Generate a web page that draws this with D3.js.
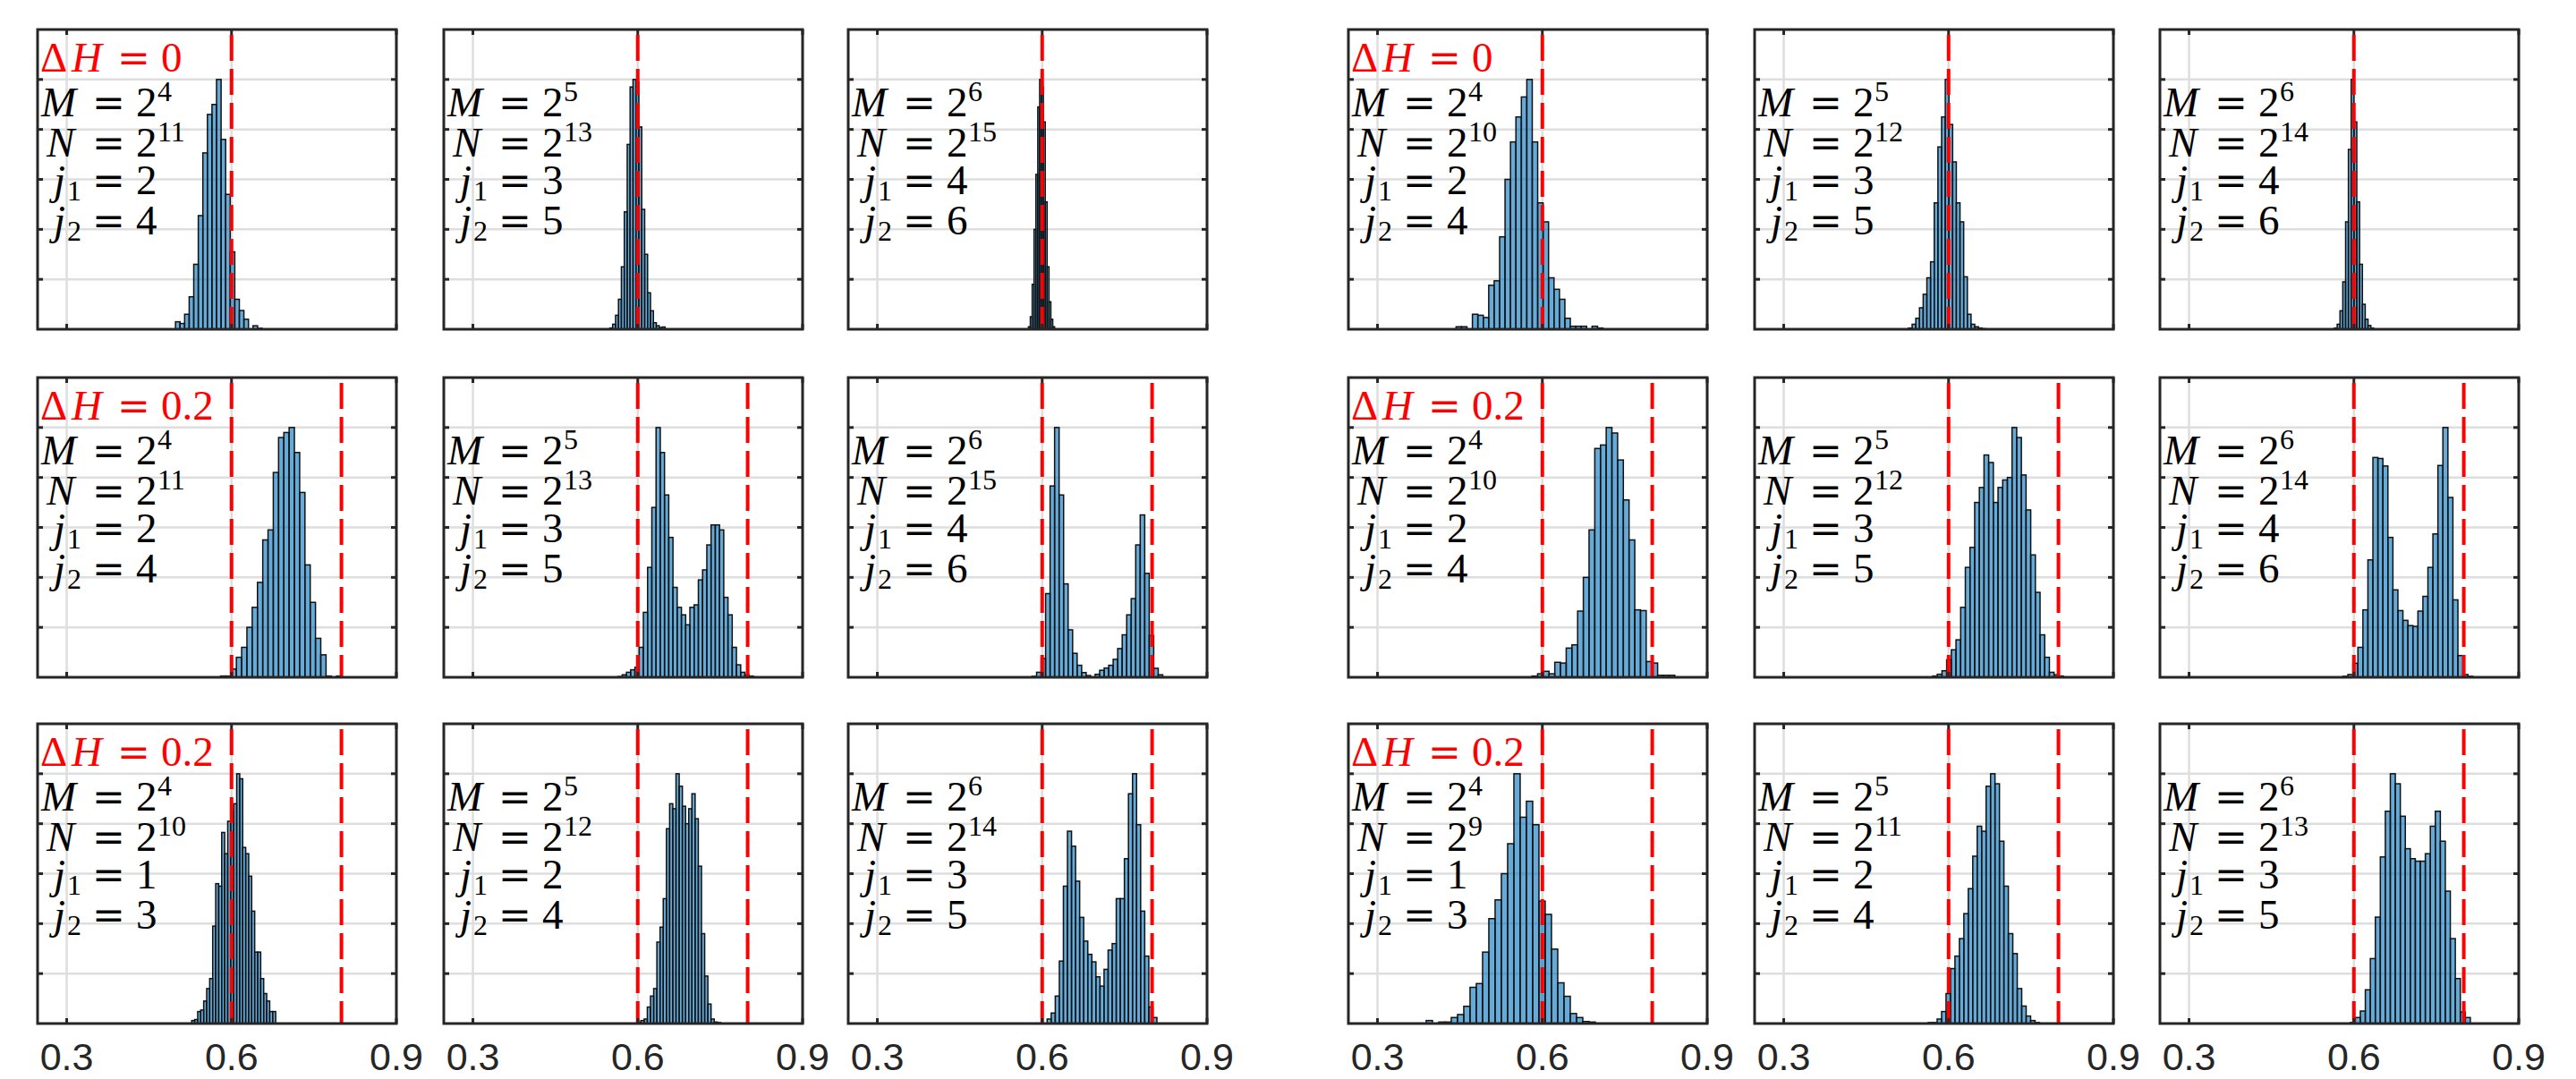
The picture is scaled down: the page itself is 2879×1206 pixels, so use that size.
<!DOCTYPE html>
<html lang="en">
<head>
<meta charset="UTF-8">
<title>Histograms of estimated H</title>
<style>
html,body{margin:0;width:100vw;height:100vh;overflow:hidden;background:#fff;}
svg{display:block;}
</style>
</head>
<body>
<svg width="2879" height="1206"></svg>
<script src="https://d3js.org/d3.v7.min.js"></script>
<script>
// ---- data (bar heights relative to the tallest bar = 100) ----
const deltaH = ["0", "0.2", "0.2"];
const refLines = [[0.6], [0.6, 0.8], [0.6, 0.8]];
const mExp = [4, 5, 6, 4, 5, 6];
const nExp = [[11, 13, 15, 10, 12, 14], [11, 13, 15, 10, 12, 14], [10, 12, 14, 9, 11, 13]];
const j1 = [[2, 3, 4, 2, 3, 4], [2, 3, 4, 2, 3, 4], [1, 2, 3, 1, 2, 3]];
const j2 = [[4, 5, 6, 4, 5, 6], [4, 5, 6, 4, 5, 6], [3, 4, 5, 3, 4, 5]];
const xTicks = [0.3, 0.6, 0.9];

const binStart = [
  [0.498, 0.549, 0.575, 0.443, 0.527, 0.5645],
  [0.580, 0.564, 0.5816, 0.581, 0.571, 0.580],
  [0.5275, 0.600, 0.609, 0.3886, 0.563, 0.5935]
];
const binWidth = [
  [0.0083, 0.0053, 0.0034, 0.0099, 0.0067, 0.0051],
  [0.0096, 0.0077, 0.0082, 0.0104, 0.0085, 0.0091],
  [0.00546, 0.0058, 0.0074, 0.0114, 0.0081, 0.0091]
];

const countsRow1 = [
  [3, 2.3, 6, 13, 26, 45.5, 70.6, 86, 90, 100, 76, 54, 31, 12, 7.5, 4, 0, 1.4, 0.4],
  [0.5, 2, 5.6, 12, 25, 47, 74, 97, 100, 99, 81, 48, 30, 14.6, 7.4, 2.6, 1.4, 0.7, 0.9],
  [1, 5, 18, 40, 62, 89, 100, 97, 83, 51, 25, 11, 4, 1],
  [1, 1, 0, 6, 5.6, 4.7, 17.6, 19.4, 37, 60, 75, 85, 93, 100, 75, 50.6, 43, 20.6, 16, 12, 4.4, 1.2, 1.2, 1.2, 0, 1.2, 0.5],
  [0.5, 2, 4.4, 8.6, 14, 20.6, 27, 50.6, 73, 85, 100, 82, 67, 50.6, 43, 21, 6, 2, 1, 0.5, 0.2],
  [0.5, 2, 7.4, 19, 43, 72, 100, 83, 51, 26, 10, 4, 1.5, 0.5]
];
const countsRow2 = [
  [0.5, 0.5, 3.3, 8, 12, 20, 28, 38, 55, 59, 82, 96, 98, 100, 90, 74, 45, 30, 15.6, 9, 0.5, 0, 0.5],
  [0.3, 1, 2, 3, 4, 12, 26, 44, 68, 100, 90, 73, 56, 36, 28, 25, 21, 28, 29, 39, 43, 53, 61, 61, 59, 32, 25, 12, 5, 2, 1, 0.5],
  [0.4, 2, 7.5, 33.5, 76.6, 100, 73, 37.4, 19, 9.6, 4.8, 1.9, 0.7, 0, 1.2, 2.8, 3.7, 4.8, 7.2, 11.5, 17, 25, 31.5, 53, 65, 41.6, 16.7, 3.6, 1],
  [0.5, 1.4, 2.4, 1.4, 6, 5.7, 11.7, 13, 26.5, 40, 59, 91.6, 93, 100, 97.8, 87, 71, 55, 27, 26.7, 6.3, 5.7, 0.8, 0.8, 0.8],
  [0.5, 1.2, 2.6, 7, 11, 15, 28, 44, 52, 70, 76, 89, 86, 70, 76, 79, 80, 100, 96, 81, 67, 49, 34, 17, 8, 2, 1, 0.5],
  [0.4, 1.1, 5.6, 12, 27, 47, 88, 87.6, 84.6, 56, 35, 26.7, 22.8, 20.7, 20.4, 26.5, 32.4, 44, 57.4, 84.8, 100, 72, 31, 8.7, 1.1, 0.4]
];
const countsRow3 = [
  [1.2, 1.6, 4.8, 5.4, 9, 14, 18, 39, 56, 55, 76.5, 68, 81, 85, 88, 100, 98, 70.5, 68, 59, 45, 28.6, 28.6, 18, 12, 9, 4.8, 4.8],
  [0.6, 1.2, 1.8, 6.6, 11, 14, 32.6, 38.6, 50, 78, 88, 86, 100, 95, 87, 80, 86, 92, 82, 63, 36, 19, 7.8, 1.8, 0.6, 0.4],
  [1.8, 4.2, 11, 25, 55, 77, 71, 57, 42.5, 33, 27.7, 24.7, 18.7, 15, 21.7, 29.4, 32, 50, 50, 66, 92, 100, 79.6, 45, 27, 6.6, 2.4],
  [1.2, 0, 0.6, 0.6, 2.4, 3.6, 6.9, 14.5, 16, 28.6, 42, 49.5, 60, 72, 100, 82.6, 89, 79.6, 49, 43.7, 29.8, 16.3, 10.9, 4, 2.4, 0.8, 0.6],
  [0.4, 0.4, 1.8, 4.8, 12, 22, 27, 34, 44, 54, 67, 79, 77, 95, 100, 96, 73, 55, 36, 28, 14, 7, 3, 1.2, 0.4],
  [0.4, 2.4, 5, 13.5, 26, 42.6, 66.7, 85, 100, 96, 83, 70, 66, 65, 65, 68, 79, 85, 73, 53, 34, 18, 4.6, 2.4]
];

// ---- layout ----
const svg = d3.select("svg");
const colLeft = [42, 496, 948, 1507, 1961, 2414];
const rowTop = [33, 422, 809];
const pw = 401, ph = 335;
const axisColor = "#262626", gridColor = "#dedede";
const mathFont = "'Liberation Serif','Times New Roman',serif";
const eqFont = "'DejaVu Serif',serif";
const tickFont = "'Liberation Sans',Arial,Helvetica,sans-serif";
const FS = 47, SFS = 32, EQS = 44;

const x = d3.scaleLinear().domain([0.247, 0.9]).range([0, pw]);
const y = d3.scaleLinear().domain([0, 120]).range([ph, 0]);
const yGrid = [20, 40, 60, 80, 100];
const counts = [countsRow1, countsRow2, countsRow3];

counts.forEach((row, r) => row.forEach((vals, c) => {
  const g = svg.append("g").attr("transform", `translate(${colLeft[c]},${rowTop[r]})`);

  // grid
  g.selectAll("line.gx").data(xTicks).join("line").attr("class", "gx")
    .attr("x1", d => x(d)).attr("x2", d => x(d)).attr("y1", 0).attr("y2", ph)
    .attr("stroke", gridColor).attr("stroke-width", 2.5);
  g.selectAll("line.gy").data(yGrid).join("line").attr("class", "gy")
    .attr("x1", 0).attr("x2", pw).attr("y1", d => y(d)).attr("y2", d => y(d))
    .attr("stroke", gridColor).attr("stroke-width", 2.5);

  // histogram bars
  const s = binStart[r][c], w = binWidth[r][c];
  const bins = vals.map((v, i) => ({x0: s + i * w, x1: s + (i + 1) * w, v})).filter(d => d.v > 0);
  g.selectAll("rect.bar").data(bins).join("rect").attr("class", "bar")
    .attr("x", d => x(d.x0)).attr("width", d => x(d.x1) - x(d.x0))
    .attr("y", d => y(d.v)).attr("height", d => y(0) - y(d.v))
    .attr("fill", "#0072BD").attr("fill-opacity", 0.6)
    .attr("stroke", "#111").attr("stroke-width", 1.5);

  // reference lines
  g.selectAll("line.ref").data(refLines[r]).join("line").attr("class", "ref")
    .attr("x1", d => x(d)).attr("x2", d => x(d)).attr("y1", 6).attr("y2", ph)
    .attr("stroke", "#ff0000").attr("stroke-width", 4).attr("stroke-dasharray", "29,9");

  // ticks
  yGrid.forEach(v => {
    g.append("line").attr("x1", 0).attr("x2", 6).attr("y1", y(v)).attr("y2", y(v)).attr("stroke", axisColor).attr("stroke-width", 3);
    g.append("line").attr("x1", pw - 6).attr("x2", pw).attr("y1", y(v)).attr("y2", y(v)).attr("stroke", axisColor).attr("stroke-width", 3);
  });
  xTicks.forEach(v => {
    g.append("line").attr("x1", x(v)).attr("x2", x(v)).attr("y1", ph).attr("y2", ph - 6).attr("stroke", axisColor).attr("stroke-width", 3);
    g.append("line").attr("x1", x(v)).attr("x2", x(v)).attr("y1", 0).attr("y2", 6).attr("stroke", axisColor).attr("stroke-width", 3);
  });

  // frame
  g.append("rect").attr("width", pw).attr("height", ph)
    .attr("fill", "none").attr("stroke", axisColor).attr("stroke-width", 3);

  // annotation block: one text element, pieces placed as tspans
  const t = g.append("text").attr("font-family", mathFont).attr("font-size", FS).attr("fill", "#000");
  const piece = (px, py, str, o = {}) => t.append("tspan")
    .attr("x", px).attr("y", py)
    .attr("font-style", o.italic ? "italic" : "normal")
    .attr("font-size", o.size || FS)
    .attr("font-family", o.font || mathFont)
    .attr("fill", o.fill || "#000")
    .text(str);

  if (c % 3 === 0) {
    piece(3, 47, "\u0394", {fill: "#ff0000"});
    piece(38, 47, "H", {italic: true, fill: "#ff0000"});
    piece(89, 47, "=", {font: eqFont, size: EQS, fill: "#ff0000"});
    piece(138, 47, deltaH[r], {fill: "#ff0000"});
  }
  const lines = [
    {lhs: "M", lx: 4, sub: null, val: mExp[c], by: 97},
    {lhs: "N", lx: 10, sub: null, val: nExp[r][c], by: 142},
    {lhs: "j", lx: 18, sub: "1", val: j1[r][c], by: 184},
    {lhs: "j", lx: 18, sub: "2", val: j2[r][c], by: 229}
  ];
  lines.forEach((L, i) => {
    piece(L.lx, L.by, L.lhs, {italic: true});
    if (L.sub) piece(33, L.by + 7, L.sub, {size: SFS});
    piece(61, L.by, "=", {font: eqFont, size: EQS});
    if (i < 2) {
      piece(110, L.by, "2");
      piece(134, L.by - 17, String(L.val), {size: SFS});
    } else {
      piece(110, L.by, String(L.val));
    }
  });

  // x tick labels on the bottom row
  if (r === 2) {
    g.selectAll("text.xt").data(xTicks).join("text").attr("class", "xt")
      .attr("x", d => x(d)).attr("y", ph + 52)
      .attr("text-anchor", "middle").attr("font-family", tickFont)
      .attr("font-size", 43).attr("fill", axisColor)
      .text(d => d.toFixed(1));
  }
}));
</script>
</body>
</html>
